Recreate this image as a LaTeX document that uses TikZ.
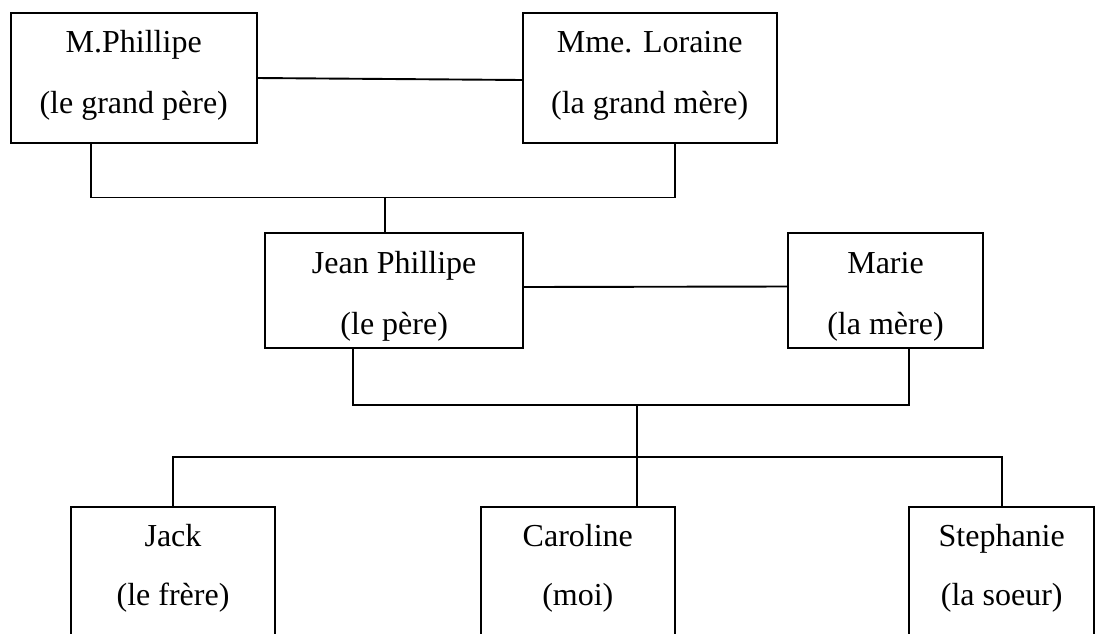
\documentclass[tikz,border=0pt]{standalone}
\usepackage{fontspec}
\setmainfont{Liberation Serif}
\usetikzlibrary{calc}
\begin{document}
\begin{tikzpicture}[x=1pt,y=-1pt,
  person/.style={draw,line width=1.9pt,inner sep=0pt,outer sep=0pt,rectangle},
  txt/.style={anchor=base,inner sep=0pt,font=\fontsize{32}{38}\selectfont},
  link/.style={line width=1.9pt}]
\useasboundingbox (0,0) rectangle (1095,633);
\clip (0,0) rectangle (1095,633);
% boxes
\node[person,minimum width=246pt,minimum height=130pt] (mp) at (133.7,77.7) {};
\node[person,minimum width=254pt,minimum height=130pt] (ml) at (649.7,77.7) {};
\node[person,minimum width=258.3pt,minimum height=115.6pt] (jp) at (394.2,290.5) {};
\node[person,minimum width=194.4pt,minimum height=115.6pt] (ma) at (885.5,290.5) {};
\node[person,minimum width=204pt,minimum height=153.3pt] (ja) at (173,583.3) {};
\node[person,minimum width=194.3pt,minimum height=153.3pt] (ca) at (577.8,583.3) {};
\node[person,minimum width=185.3pt,minimum height=153.3pt] (st) at (1001.7,583.3) {};
% texts
\node[txt] (mp1) at (133.7,52) {M.Phillipe};
\node[txt] (mp2) at (133.7,113) {(le grand père)};
\node[txt] (ml1) at (649.7,52) {Mme. Loraine};
\node[txt] (ml2) at (649.7,113) {(la grand mère)};
\node[txt] (jp1) at (394.2,273) {Jean Phillipe};
\node[txt] (jp2) at (394.2,334) {(le père)};
\node[txt] (ma1) at (885.5,273) {Marie};
\node[txt] (ma2) at (885.5,334) {(la mère)};
\node[txt] (ja1) at (173,546) {Jack};
\node[txt] (ja2) at (173,605) {(le frère)};
\node[txt] (ca1) at (577.8,546) {Caroline};
\node[txt] (ca2) at (577.8,605) {(moi)};
\node[txt] (st1) at (1001.7,546) {Stephanie};
\node[txt] (st2) at (1001.7,605) {(la soeur)};
% connectors
\coordinate (g) at (385,197.5);
\coordinate (p) at (636.7,405);
\coordinate (k) at (636.7,456.7);
\draw[link] ($(mp.east)+(0,0.3)$) -- ($(ml.west)+(0,2.3)$);
\draw[link] ($(mp.south west)+(80,0)$) |- (g) -| ($(ml.south west)+(152.3,0)$);
\draw[link] (g) -- (jp.north -| g);
\draw[link] ($(jp.east)+(0,-3.5)$) -- ($(ma.west)+(0,-4)$);
\draw[link] ($(jp.south west)+(88.3,0)$) |- (p) -| ($(ma.south west)+(120.7,0)$);
\draw[link] (p) -- (ca.north -| p);
\draw[link] (ja.north) |- (k) -| (st.north);
\end{tikzpicture}
\end{document}
